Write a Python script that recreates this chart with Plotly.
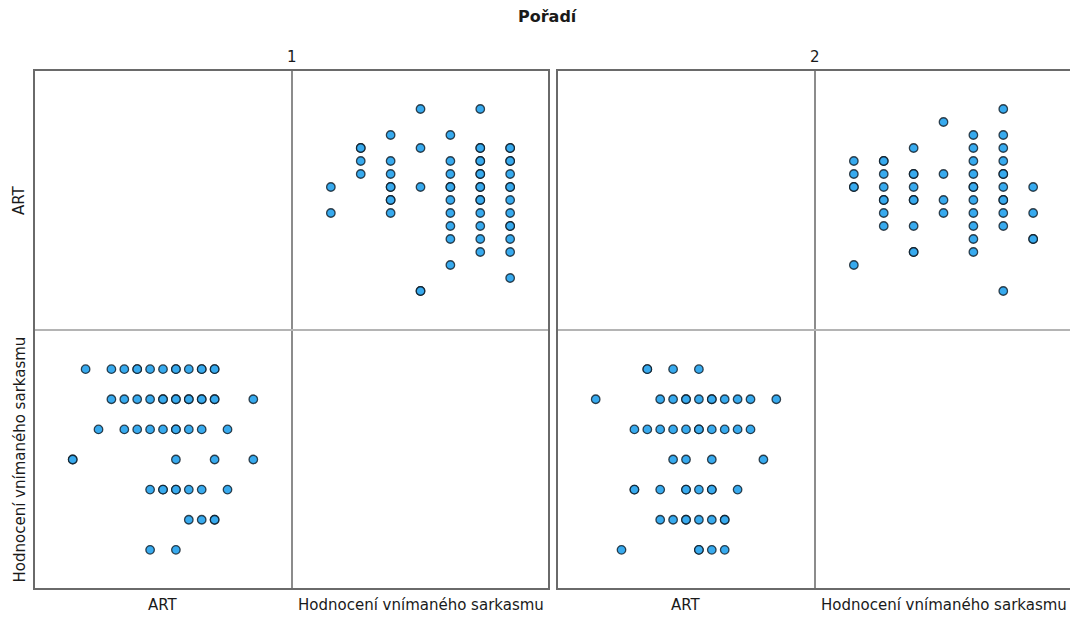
import plotly.graph_objects as go

# Scatterplot matrix of ART score vs. perceived-sarcasm rating, split by "Pořadí"
# Each pair of lists holds one respondent per position: (sarcasm rating, ART score)

sark_1 = [1, 1,
          2, 2, 2, 2,
          3, 3, 3, 3, 3, 3, 3, 3,
          4, 4, 4, 4, 4,
          5, 5, 5, 5, 5, 5, 5, 5, 5, 5,
          6, 6, 6, 6, 6, 6, 6, 6, 6, 6, 6, 6, 6, 6, 6,
          7, 7, 7, 7, 7, 7, 7, 7, 7, 7, 7, 7, 7, 7]
art_1 = [6, 8,
         9, 10, 11, 11,
         6, 7, 7, 8, 8, 9, 10, 12,
         0, 0, 8, 11, 14,
         2, 4, 5, 6, 7, 8, 8, 9, 10, 12,
         3, 4, 5, 6, 7, 7, 8, 8, 9, 9, 10, 10, 11, 11, 14,
         1, 3, 4, 5, 5, 6, 7, 8, 8, 9, 10, 10, 11, 11]

sark_2 = [1, 1, 1, 1, 1,
          2, 2, 2, 2, 2, 2, 2, 2,
          3, 3, 3, 3, 3, 3, 3, 3, 3,
          4, 4, 4, 4,
          5, 5, 5, 5, 5, 5, 5, 5, 5, 5, 5,
          6, 6, 6, 6, 6, 6, 6, 6, 6, 6, 6, 6,
          7, 7, 7, 7]
art_2 = [2, 8, 8, 9, 10,
         5, 6, 7, 7, 8, 9, 10, 10,
         3, 3, 5, 7, 7, 8, 9, 9, 11,
         6, 7, 9, 13,
         3, 4, 5, 6, 7, 8, 8, 9, 10, 11, 12,
         0, 5, 6, 7, 7, 8, 9, 9, 10, 11, 12, 14,
         4, 4, 6, 8]

group_labels = ["1", "2"]
var_labels = ["ART", "Hodnocení vnímaného sarkasmu"]
title_text = "Pořadí"

W, H = 1070, 618
FONT = "DejaVu Sans"
FILL = "#38AAEE"
EDGE = "rgba(10,20,30,0.78)"

ART_RANGE = [-3.0, 17.0]
SARK_RANGE = [-0.3, 8.3]


def fx(px):
    return px / W


def fy(py):
    return 1 - py / H


# Panel geometry in pixels: (left, top, right, bottom, divider_x, divider_y)
panels = [(34, 70, 549, 589, 292, 330), (557, 70, 1072, 589, 815, 330)]

fig = go.Figure()
layout_axes = {}
datasets = [(sark_1, art_1), (sark_2, art_2)]

axis_no = 1
for (left, top, right, bottom, dx, dy), (sark, art) in zip(panels, datasets):
    # lower-left cell: x = ART, y = sarcasm rating
    # upper-right cell: x = sarcasm rating, y = ART
    cells = [
        ((left, dx), (dy, bottom), ART_RANGE, SARK_RANGE, art, sark),
        ((dx, right), (top, dy), SARK_RANGE, ART_RANGE, sark, art),
    ]
    for (x0, x1), (y0, y1), xr, yr, xs, ys in cells:
        # keep the domain inside the page; shrink the range with it
        x1c = min(x1, W)
        span = (xr[1] - xr[0]) * (x1c - x0) / (x1 - x0)
        xr_c = [xr[0], xr[0] + span]
        xa = "xaxis" if axis_no == 1 else f"xaxis{axis_no}"
        ya = "yaxis" if axis_no == 1 else f"yaxis{axis_no}"
        xref = "x" if axis_no == 1 else f"x{axis_no}"
        yref = "y" if axis_no == 1 else f"y{axis_no}"
        layout_axes[xa] = dict(domain=[fx(x0), fx(x1c)], range=xr_c, visible=False,
                               anchor=yref, fixedrange=True)
        layout_axes[ya] = dict(domain=[fy(y1), fy(y0)], range=yr, visible=False,
                               anchor=xref, fixedrange=True)
        fig.add_trace(go.Scatter(
            x=xs, y=ys, mode="markers", xaxis=xref, yaxis=yref,
            marker=dict(size=8.5, color=FILL, line=dict(color=EDGE, width=1.3)),
            showlegend=False, hoverinfo="skip", cliponaxis=False,
        ))
        axis_no += 1

shapes = []
for left, top, right, bottom, dx, dy in panels:
    shapes.append(dict(type="line", xref="paper", yref="paper",
                       x0=fx(dx), x1=fx(dx), y0=fy(top), y1=fy(bottom),
                       line=dict(color="#8c8c8c", width=2), layer="below"))
    shapes.append(dict(type="line", xref="paper", yref="paper",
                       x0=fx(left), x1=fx(right), y0=fy(dy), y1=fy(dy),
                       line=dict(color="#b4b4b4", width=2), layer="below"))
    shapes.append(dict(type="rect", xref="paper", yref="paper",
                       x0=fx(left), x1=fx(right), y0=fy(top), y1=fy(bottom),
                       line=dict(color="#6a6a6a", width=2), layer="above"))

annotations = []


def label(text, x, y, size=15, angle=0, bold=False):
    annotations.append(dict(
        text=f"<b>{text}</b>" if bold else text, x=fx(x), y=fy(y),
        xref="paper", yref="paper", showarrow=False, textangle=angle,
        xanchor="center", yanchor="middle",
        font=dict(family=FONT, size=size, color="#1a1a1a"),
    ))


label(title_text, 548, 17, size=16, bold=True)
for (left, top, right, bottom, dx, dy), g in zip(panels, group_labels):
    label(g, dx, 57)
    label(var_labels[0], (left + dx) / 2, 605)
    label(var_labels[1], (dx + right) / 2, 605)
label(var_labels[0], 19, (70 + 330) / 2, angle=-90)
label(var_labels[1], 19, (330 + 589) / 2, angle=-90)

fig.update_layout(
    width=W, height=H, autosize=False,
    margin=dict(l=0, r=0, t=0, b=0),
    paper_bgcolor="white", plot_bgcolor="white",
    shapes=shapes, annotations=annotations,
    **layout_axes,
)

fig.write_html("out.html")
